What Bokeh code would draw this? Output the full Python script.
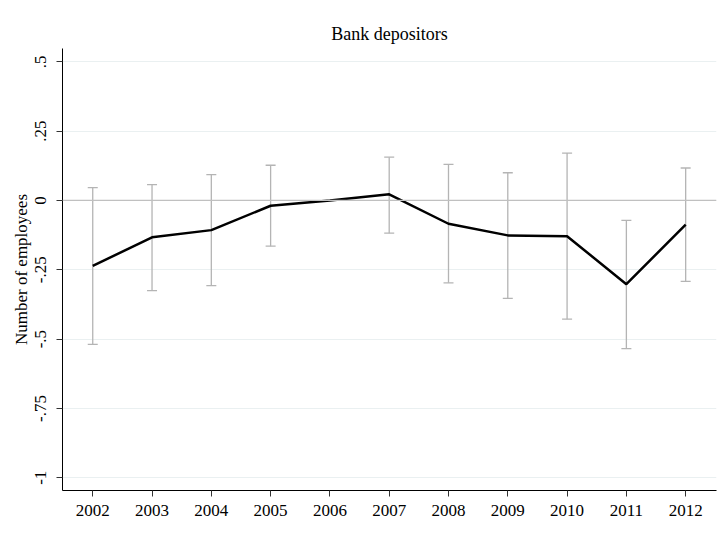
from bokeh.plotting import figure
from bokeh.models import ColumnDataSource, Whisker, Span, FixedTicker, Range1d, Title
from bokeh.embed import file_html
from bokeh.resources import INLINE

years = [2002, 2003, 2004, 2005, 2006, 2007, 2008, 2009, 2010, 2011, 2012]
coef = [-0.236, -0.133, -0.107, -0.019, 0.0, 0.022, -0.084, -0.126, -0.129, -0.302, -0.087]
ci_years = [2002, 2003, 2004, 2005, 2007, 2008, 2009, 2010, 2011, 2012]
ci_low = [-0.519, -0.325, -0.307, -0.165, -0.118, -0.297, -0.353, -0.428, -0.534, -0.292]
ci_high = [0.046, 0.057, 0.093, 0.127, 0.156, 0.130, 0.100, 0.171, -0.072, 0.117]
y_ticks = [-1, -0.75, -0.5, -0.25, 0, 0.25, 0.5]
y_tick_labels = ["-1", "-.75", "-.5", "-.25", "0", ".25", ".5"]

FONT = "Liberation Serif"

p = figure(width=720, height=540, output_backend="svg", toolbar_location=None,
           x_range=Range1d(2001.49, 2012.52), y_range=Range1d(-1.046, 0.548),
           min_border_left=62, min_border_right=4, min_border_top=48, min_border_bottom=50)
p.title = Title(text="Bank depositors", align="center", text_font=FONT,
                text_font_size="18px", text_font_style="normal", text_color="black")
p.outline_line_color = None
p.background_fill_color = "white"
p.border_fill_color = "white"

p.xgrid.visible = False
p.ygrid.ticker = FixedTicker(ticks=y_ticks)
p.ygrid.grid_line_color = "#eaf0f1"
p.ygrid.grid_line_width = 1

p.xaxis.ticker = FixedTicker(ticks=years)
p.yaxis.ticker = FixedTicker(ticks=y_ticks)
p.yaxis.major_label_overrides = {t: l for t, l in zip(y_ticks, y_tick_labels)}
p.yaxis.major_label_orientation = "vertical"
p.yaxis.axis_label = "Number of employees"
for ax in (p.xaxis[0], p.yaxis[0]):
    ax.axis_line_color = "black"
    ax.axis_line_width = 1
    ax.major_tick_line_color = "#333333"
    ax.major_tick_in = 0
    ax.major_tick_out = 6
    ax.minor_tick_line_color = None
    ax.major_label_text_font = FONT
    ax.major_label_text_font_size = "17px"
    ax.major_label_text_color = "black"
    ax.axis_label_text_font = FONT
    ax.axis_label_text_font_size = "17px"
    ax.axis_label_text_font_style = "normal"
    ax.axis_label_text_color = "black"
p.xaxis.major_label_standoff = 8
p.yaxis.major_label_standoff = 10
p.yaxis.axis_label_standoff = 2

p.add_layout(Span(location=0, dimension="width", line_color="#c0c0c0", line_width=1.2))

src = ColumnDataSource(dict(x=ci_years, lo=ci_low, hi=ci_high))
w = Whisker(source=src, base="x", lower="lo", upper="hi", dimension="height",
            line_color="#b4b4b4", line_width=1.3)
w.upper_head.size = 10
w.lower_head.size = 10
w.upper_head.line_color = "#b4b4b4"
w.lower_head.line_color = "#b4b4b4"
w.upper_head.line_width = 1.3
w.lower_head.line_width = 1.3
p.add_layout(w)

p.line(years, coef, line_color="black", line_width=2.5)

open("out.html", "w").write(file_html(p, INLINE))
